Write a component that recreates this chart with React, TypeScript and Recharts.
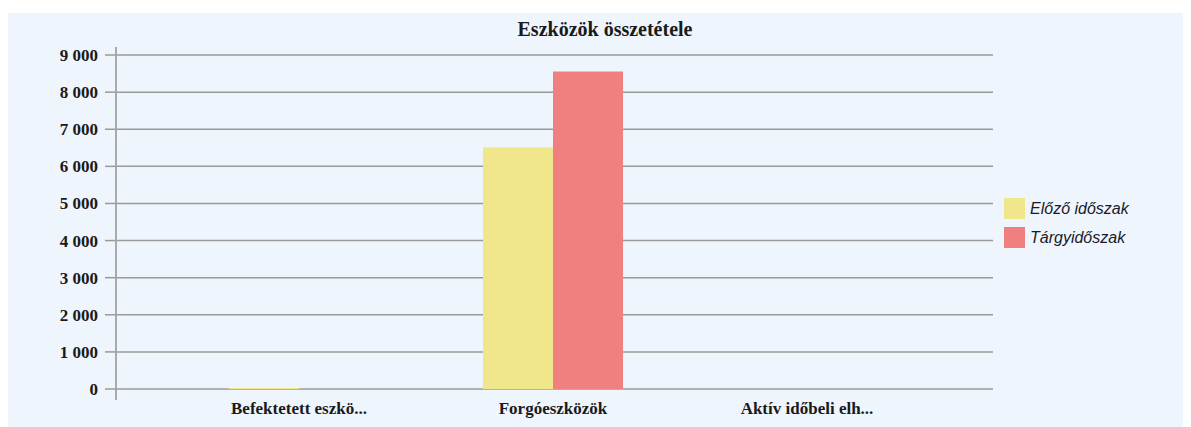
import { BarChart, Bar, XAxis, YAxis, CartesianGrid, Legend } from 'recharts';

const categories = ['Befektetett eszkö...', 'Forgóeszközök', 'Aktív időbeli elh...'];
const elozoIdoszak = [25, 6515, 0];
const targyidoszak = [0, 8555, 0];
const yTicks = [0, 1000, 2000, 3000, 4000, 5000, 6000, 7000, 8000, 9000];

const data = categories.map((name, i) => ({
  name,
  elozo: elozoIdoszak[i],
  targy: targyidoszak[i],
}));

const seriesColors = { elozo: '#F0E68C', targy: '#F08080' };
const serif = '"Liberation Serif", "Times New Roman", serif';

const formatThousands = (v: number) => String(v).replace(/\B(?=(\d{3})+(?!\d))/g, ' ');

function LegendContent({ payload }: any) {
  return (
    <div style={{ fontFamily: '"Liberation Sans", Arial, sans-serif', fontStyle: 'italic', fontSize: 16, color: '#1a1a2a' }}>
      {(payload || []).map((p: any) => (
        <div key={p.value} style={{ display: 'flex', alignItems: 'center', height: 29 }}>
          <span style={{ width: 21, height: 21, background: p.color, marginRight: 5, display: 'inline-block' }} />
          <span>{p.value}</span>
        </div>
      ))}
    </div>
  );
}

export default function App() {
  return (
    <div style={{ position: 'relative', width: 1175, height: 414, marginTop: 5, background: '#EEF5FD' }}>
      <div
        style={{
          position: 'absolute',
          left: 0,
          width: 1194,
          top: 5,
          textAlign: 'center',
          fontFamily: serif,
          fontWeight: 'bold',
          fontSize: 20,
          color: '#1a1a1a',
        }}
      >
        Eszközök összetétele
      </div>
      <BarChart
        width={1175}
        height={414}
        data={data}
        margin={{ top: 34, right: 10, bottom: 7, left: 0 }}
        barGap={0}
        barSize={70}
      >
        <CartesianGrid horizontal vertical={false} syncWithTicks stroke="#9a9a9a" strokeWidth={1.5} />
        <XAxis
          dataKey="name"
          axisLine={false}
          tickLine={false}
          tickSize={0}
          tickMargin={2}
          height={20}
          padding={{ left: 56, right: 59 }}
          interval={0}
          tick={{ fill: '#1a1a1a', fontFamily: serif, fontWeight: 'bold', fontSize: 17 }}
        />
        <YAxis
          width={108}
          domain={[-296, 9216]}
          ticks={yTicks}
          allowDataOverflow
          tickFormatter={formatThousands}
          axisLine={{ stroke: '#aaaaaa', strokeWidth: 2 }}
          tickLine={{ stroke: '#9a9a9a', strokeWidth: 1.5 }}
          tickSize={11}
          tickMargin={7}
          tick={{ fill: '#1a1a1a', fontFamily: serif, fontWeight: 'bold', fontSize: 17 }}
        />
        <Legend
          layout="vertical"
          align="right"
          verticalAlign="top"
          content={<LegendContent />}
          wrapperStyle={{ left: 996, top: 181, width: 180 }}
        />
        <Bar dataKey="elozo" name="Előző időszak" fill={seriesColors.elozo} isAnimationActive={false} />
        <Bar dataKey="targy" name="Tárgyidőszak" fill={seriesColors.targy} isAnimationActive={false} />
      </BarChart>
    </div>
  );
}
